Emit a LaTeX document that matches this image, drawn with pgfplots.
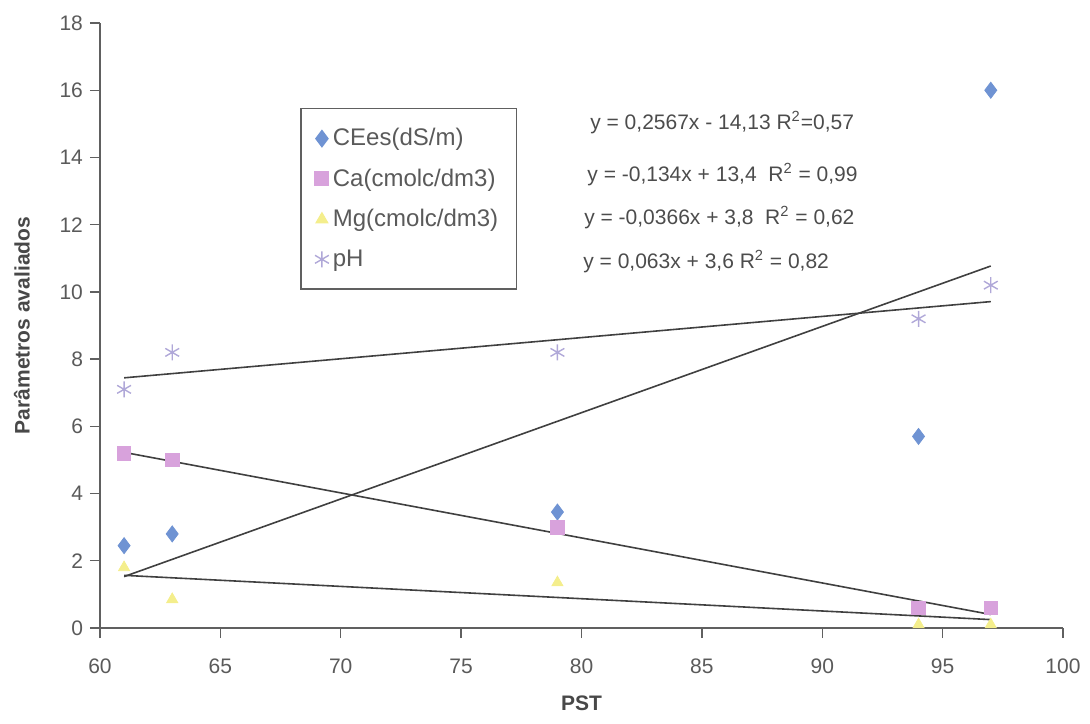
\documentclass[border=0pt]{standalone}
\usepackage{pgfplots}
\pgfplotsset{compat=1.18}
\usepackage{fontspec}
\setmainfont{Liberation Sans}
\usetikzlibrary{calc}
\definecolor{cblue}{HTML}{6F93D3}
\definecolor{cpink}{HTML}{D8A2DC}
\definecolor{cyel}{HTML}{F4EE8C}
\definecolor{cstar}{HTML}{B0A8D8}
\definecolor{txtg}{HTML}{5A5A5A}
\definecolor{axg}{HTML}{606060}
\begin{document}
\begin{tikzpicture}
\begin{axis}[name=ax,
  scale only axis, width=481.5pt, height=302.5pt,
  xmin=60, xmax=100, ymin=0, ymax=18,
  xtick={60,65,...,100}, ytick={0,2,...,18},
  axis lines=left, axis line style={-, axg, line width=0.8pt},
  tick align=outside, major tick length=5pt,
  tick style={axg, line width=0.7pt},
  /pgf/number format/assume math mode=true,
  ticklabel style={font=\fontsize{10.5}{12}\selectfont, text=txtg},
  xticklabel style={yshift=-7pt},
  xlabel={\textbf{PST}}, ylabel={\textbf{Parâmetros avaliados}},
  label style={font=\fontsize{10.5}{12}\selectfont, text=txtg!80!black},
  xlabel style={yshift=-4pt},
  ylabel style={yshift=8pt},
  legend style={at={(0.208,0.86)}, anchor=north west, draw=axg, line width=0.7pt,
    font=\fontsize{12}{14}\selectfont, text=txtg, inner xsep=7pt, inner ysep=8pt,
    row sep=6pt, cells={anchor=west}, legend image code/.code={\draw[mark repeat=2,mark phase=2] plot coordinates {(0cm,0cm) (0.16cm,0cm) (0.32cm,0cm)};}},
  clip=false,
]
% trend lines
\addplot[forget plot, color=black!75, line width=0.8pt] coordinates {(61,1.529) (97,10.77)};
\addplot[forget plot, color=black!75, line width=0.8pt] coordinates {(61,5.226) (97,0.402)};
\addplot[forget plot, color=black!75, line width=0.8pt] coordinates {(61,1.567) (97,0.250)};
\addplot[forget plot, color=black!75, line width=0.8pt] coordinates {(61,7.443) (97,9.711)};
% data
\addplot[only marks, mark=diamond*, mark size=4pt, color=cblue, mark options={fill=cblue, draw=cblue}] coordinates {(61,2.45) (63,2.8) (79,3.45) (94,5.7) (97,16.0)};
\addlegendentry{CEes(dS/m)}
\addplot[only marks, mark=square*, mark size=3.4pt, color=cpink, mark options={fill=cpink, draw=cpink}] coordinates {(61,5.2) (63,5.0) (79,3.0) (94,0.6) (97,0.6)};
\addlegendentry{Ca(cmolc/dm3)}
\addplot[only marks, mark=triangle*, mark size=3.2pt, color=cyel, mark options={fill=cyel, draw=cyel}] coordinates {(61,1.8) (63,0.85) (79,1.35) (94,0.1) (97,0.1)};
\addlegendentry{Mg(cmolc/dm3)}
\addplot[only marks, mark=asterisk, mark size=4pt, color=cstar, mark options={line width=0.7pt}] coordinates {(61,7.1) (63,8.2) (79,8.2) (94,9.2) (97,10.2)};
\addlegendentry{pH}
% equations
\begin{scope}[every node/.style={anchor=west, font=\fontsize{10.5}{12}\selectfont, text=txtg!85!black, inner sep=0pt}]
\node at (axis cs:80.35,15.03) {y = 0,2567x - 14,13 R\textsuperscript{2}=0,57};
\node at (axis cs:80.23,13.48) {y = -0,134x + 13,4 \ R\textsuperscript{2} = 0,99};
\node at (axis cs:80.10,12.20) {y = -0,0366x + 3,8 \ R\textsuperscript{2} = 0,62};
\node at (axis cs:80.06,10.89) {y = 0,063x + 3,6 R\textsuperscript{2} = 0,82};
\end{scope}
\end{axis}
\pgfresetboundingbox
\path ($(ax.south west)+(-50pt,-47.5pt)$) rectangle ($(ax.north east)+(13.5pt,11.5pt)$);
\end{tikzpicture}
\end{document}
